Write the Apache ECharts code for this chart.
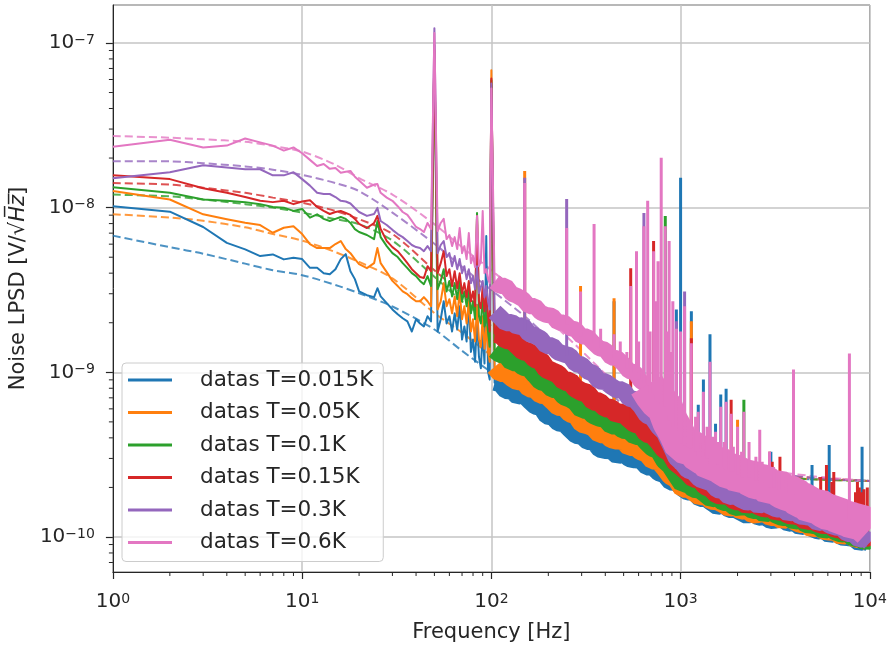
<!DOCTYPE html>
<html><head><meta charset="utf-8">
<script src="https://cdn.jsdelivr.net/npm/echarts@6/dist/echarts.min.js"></script>
<style>html,body{margin:0;padding:0;background:#fff}#c{width:890px;height:648px}</style>
</head><body><div id="c"></div>
<script>
// ---------- frequencies (Hz) ----------
const lowF = [1,2,3,4,5,6,7,8,9,10,11,12,13,14,15,16,17,18,19,20,22,24,25,26,28,30,32,34,36,38,40,42,44,46,
  48,50,52,54,56,58,60,62,64,66,68,70,72,74,76,78,80,82,84,86,88,90,92,94,96,98,100];
const bandF = [104,111,119,128,137,147,158,170,182,195,210,225,242,260,279,300,322,346,372,400,430,462,496,533,573,615,661,710,763,820,
  881,947,1020,1090,1170,1260,1350,1450,1560,1680,1800,1940,2080,2240,2400,2580,2770,2980,3200,3440,3700,3970,4270,4590,4930,5300,5700,6120,6580,7070,
  7600,8170,8780,9440,10000];
const fitF = [1,2,3,5,7,10,15,20,30,50,70,100,150,200,300,500,700,1000,2000,5000,10000];

// ---------- T = 0.015K ----------
const blueLow = [1.02e-8,9.45e-9,7.63e-9,6.11e-9,5.58e-9,5.08e-9,5.2e-9,4.85e-9,4.96e-9,4.87e-9,4.31e-9,4.31e-9,4.0e-9,3.94e-9,4.23e-9,4.87e-9,5.22e-9,4.11e-9,3.68e-9,3.10e-9,2.94e-9,2.86e-9,3.24e-9,2.89e-9,2.63e-9,2.41e-9,2.25e-9,2.13e-9,2.04e-9,1.77e-9,2.10e-9,1.98e-9,1.90e-9,2.19e-9,
  2.04e-9,9.68e-8,1.77e-9,2.10e-9,2.70e-9,1.98e-9,2.19e-9,1.77e-9,2.28e-9,1.82e-9,2.52e-9,1.58e-9,1.90e-9,1.54e-9,2.70e-9,1.33e-9,1.58e-9,1.16e-9,2.10e-9,1.24e-9,1.06e-9,1.77e-9,1.13e-9,6.72e-9,1.01e-9,9.03e-10,5.53e-8];
const blueBand = [8.64e-10,8.47e-10,7.70e-10,7.64e-10,7.10e-10,7.27e-10,6.69e-10,6.18e-10,6.08e-10,5.40e-10,
  5.31e-10,4.90e-10,4.83e-10,4.45e-10,4.11e-10,4.06e-10,3.77e-10,3.76e-10,3.39e-10,3.33e-10,
  3.31e-10,3.08e-10,3.20e-10,2.97e-10,2.92e-10,2.90e-10,2.64e-10,2.64e-10,2.44e-10,2.37e-10,
  2.14e-10,2.13e-10,1.96e-10,1.86e-10,1.86e-10,1.70e-10,1.71e-10,1.61e-10,1.52e-10,1.56e-10,
  1.46e-10,1.46e-10,1.40e-10,1.34e-10,1.39e-10,1.31e-10,1.32e-10,1.25e-10,1.26e-10,1.28e-10,
  1.20e-10,1.22e-10,1.14e-10,1.18e-10,1.12e-10,1.08e-10,1.09e-10,1.02e-10,1.06e-10,9.94e-11,
  9.86e-11,9.76e-11,9.15e-11,9.45e-11,9.03e-11];
const blueSpikes = [[445,3.3e-10,2.70e-9],[950,2.1e-10,2.41e-9],[1000,2.0e-10,1.52e-8],[1140,1.86e-10,2.35e-9],[1240,1.7e-10,6.35e-10],[1320,1.7e-10,9.03e-10],[1430,1.6e-10,1.70e-9],[1530,1.52e-10,4.87e-10],[1630,1.55e-10,7.33e-10],[1740,1.5e-10,7.96e-10],[3000,1.25e-10,3.29e-10],[3950,1.22e-10,4.54e-10],[4950,1.12e-10,2.74e-10],[6100,1.08e-10,3.62e-10],[9100,9.3e-11,3.53e-10]];
const blueFit = [6.76e-9,5.75e-9,5.25e-9,4.57e-9,4.17e-9,3.89e-9,3.39e-9,3.02e-9,2.51e-9,1.82e-9,1.35e-9,1.00e-9,7.24e-10,5.75e-10,4.27e-10,3.24e-10,2.82e-10,2.57e-10,2.34e-10,2.24e-10,2.19e-10];

// ---------- T = 0.05K ----------
const orangeLow = [1.26e-8,1.12e-8,9.11e-9,8.50e-9,8.10e-9,7.84e-9,7.04e-9,7.55e-9,7.72e-9,6.91e-9,6.01e-9,5.68e-9,5.68e-9,5.68e-9,6.01e-9,6.27e-9,5.60e-9,5.29e-9,4.87e-9,4.54e-9,4.29e-9,4.6e-9,5.68e-9,4.6e-9,4.06e-9,3.59e-9,3.34e-9,3.10e-9,2.98e-9,2.82e-9,2.70e-9,2.70e-9,2.86e-9,2.70e-9,
  2.52e-9,9.03e-8,2.41e-9,2.70e-9,3.48e-9,2.52e-9,2.78e-9,2.28e-9,2.89e-9,2.19e-9,3.10e-9,2.10e-9,2.52e-9,1.98e-9,2.70e-9,1.77e-9,2.10e-9,1.54e-9,2.52e-9,1.58e-9,1.43e-9,2.19e-9,1.39e-9,1.90e-9,1.33e-9,1.16e-9,6.82e-8];
const orangeBand = [1.08e-9,9.89e-10,9.92e-10,9.26e-10,8.81e-10,8.86e-10,7.98e-10,7.89e-10,7.30e-10,7.25e-10,
  6.68e-10,6.18e-10,6.12e-10,5.61e-10,5.49e-10,4.87e-10,4.77e-10,4.61e-10,4.20e-10,4.23e-10,
  3.92e-10,3.85e-10,3.84e-10,3.51e-10,3.55e-10,3.31e-10,3.21e-10,2.91e-10,2.90e-10,2.63e-10,
  2.35e-10,2.24e-10,1.96e-10,1.97e-10,1.87e-10,1.76e-10,1.79e-10,1.66e-10,1.65e-10,1.58e-10,
  1.50e-10,1.54e-10,1.44e-10,1.46e-10,1.37e-10,1.38e-10,1.40e-10,1.32e-10,1.33e-10,1.26e-10,
  1.31e-10,1.25e-10,1.20e-10,1.20e-10,1.12e-10,1.16e-10,1.09e-10,1.08e-10,1.07e-10,1.01e-10,
  1.05e-10,9.90e-11,9.68e-11,9.72e-11,9.15e-11];
const orangeSpikes = [[150,8.4e-10,1.67e-8],[296,4.9e-10,3.34e-9],[445,3.9e-10,2.82e-9],[1140,1.9e-10,2.04e-9],[2000,1.5e-10,5.15e-10]];
const orangeFit = [9.12e-9,8.71e-9,8.32e-9,7.59e-9,6.92e-9,6.31e-9,5.37e-9,4.68e-9,3.72e-9,2.29e-9,1.74e-9,1.26e-9,8.71e-10,6.76e-10,4.90e-10,3.47e-10,2.95e-10,2.63e-10,2.40e-10,2.24e-10,2.19e-10];

// ---------- T = 0.1K ----------
const greenLow = [1.33e-8,1.23e-8,1.12e-8,1.10e-8,1.08e-8,1.05e-8,1.01e-8,1.00e-8,9.55e-9,9.82e-9,8.69e-9,9.11e-9,8.54e-9,8.30e-9,8.54e-9,8.78e-9,8.54e-9,8.07e-9,7.41e-9,7.11e-9,6.82e-9,6.44e-9,8.30e-9,6.62e-9,5.84e-9,5.29e-9,5.01e-9,4.60e-9,4.29e-9,4.00e-9,3.84e-9,3.59e-9,3.43e-9,3.84e-9,
  3.34e-9,8.41e-8,3.20e-9,3.59e-9,4.23e-9,3.10e-9,3.59e-9,2.89e-9,3.48e-9,2.78e-9,3.59e-9,2.70e-9,3.10e-9,2.52e-9,3.20e-9,2.28e-9,2.70e-9,2.10e-9,9.28e-9,2.19e-9,1.98e-9,2.89e-9,1.90e-9,2.35e-9,1.77e-9,1.43e-9,5.93e-8];
const greenBand = [1.37e-9,1.29e-9,1.28e-9,1.15e-9,1.16e-9,1.08e-9,1.06e-9,9.64e-10,8.81e-10,8.63e-10,
  7.93e-10,7.91e-10,7.14e-10,6.92e-10,6.59e-10,5.92e-10,5.99e-10,5.49e-10,5.31e-10,5.22e-10,
  4.76e-10,4.78e-10,4.48e-10,4.44e-10,4.10e-10,4.14e-10,3.77e-10,3.48e-10,3.37e-10,2.92e-10,
  2.71e-10,2.38e-10,2.10e-10,2.14e-10,1.96e-10,1.94e-10,1.83e-10,1.71e-10,1.75e-10,1.63e-10,
  1.63e-10,1.52e-10,1.53e-10,1.54e-10,1.46e-10,1.47e-10,1.38e-10,1.44e-10,1.37e-10,1.32e-10,
  1.33e-10,1.25e-10,1.29e-10,1.20e-10,1.19e-10,1.17e-10,1.10e-10,1.14e-10,1.08e-10,1.05e-10,
  1.06e-10,9.90e-11,9.96e-11,9.32e-11,9.68e-11];
const greenSpikes = [[830,2.9e-10,8.91e-9],[2160,1.5e-10,6.82e-10]];
const greenFit = [1.20e-8,1.17e-8,1.12e-8,1.05e-8,1.00e-8,9.33e-9,8.51e-9,7.94e-9,6.31e-9,3.80e-9,2.69e-9,1.91e-9,1.32e-9,1.00e-9,6.92e-10,4.47e-10,3.55e-10,2.95e-10,2.45e-10,2.24e-10,2.19e-10];

// ---------- T = 0.15K ----------
const redLow = [1.57e-8,1.49e-8,1.31e-8,1.23e-8,1.16e-8,1.10e-8,1.08e-8,1.10e-8,1.05e-8,1.09e-8,1.11e-8,1.01e-8,9.55e-9,9.15e-9,9.41e-9,9.55e-9,9.28e-9,9.03e-9,8.54e-9,7.96e-9,7.52e-9,8.07e-9,8.91e-9,7.41e-9,6.27e-9,5.76e-9,5.44e-9,5.01e-9,4.60e-9,4.23e-9,4.00e-9,3.79e-9,3.74e-9,4.41e-9,
  4.11e-9,9.03e-8,4.00e-9,4.60e-9,5.44e-9,3.84e-9,4.23e-9,3.34e-9,4.11e-9,3.24e-9,4.00e-9,3.02e-9,3.48e-9,2.86e-9,3.59e-9,2.70e-9,3.10e-9,2.52e-9,8.91e-9,2.70e-9,2.45e-9,3.34e-9,2.35e-9,2.89e-9,2.19e-9,1.77e-9,6.09e-8];
const redBand = [1.72e-9,1.71e-9,1.58e-9,1.57e-9,1.46e-9,1.35e-9,1.33e-9,1.21e-9,1.18e-9,1.05e-9,
  1.01e-9,9.75e-10,8.84e-10,8.82e-10,7.98e-10,7.63e-10,7.45e-10,6.68e-10,6.61e-10,6.09e-10,
  6.04e-10,5.58e-10,5.69e-10,5.25e-10,4.90e-10,4.83e-10,4.28e-10,4.18e-10,3.82e-10,3.41e-10,
  3.26e-10,2.83e-10,2.65e-10,2.48e-10,2.27e-10,2.26e-10,2.05e-10,1.98e-10,1.81e-10,1.80e-10,
  1.79e-10,1.66e-10,1.66e-10,1.57e-10,1.62e-10,1.55e-10,1.50e-10,1.52e-10,1.42e-10,1.47e-10,
  1.37e-10,1.36e-10,1.34e-10,1.25e-10,1.29e-10,1.22e-10,1.19e-10,1.20e-10,1.12e-10,1.13e-10,
  1.05e-10,1.09e-10,1.03e-10,9.89e-11,1.01e-10];
const redSpikes = [[545,5.0e-10,4.29e-9],[720,4.1e-10,6.27e-9],[1140,2.3e-10,1.61e-9],[1850,1.7e-10,6.82e-10],[2950,1.5e-10,3.29e-10],[3050,1.5e-10,2.86e-10],[3350,1.45e-10,3.07e-10],[3550,1.45e-10,2.48e-10],[5500,1.25e-10,2.31e-10],[5900,1.2e-10,2.74e-10],[6300,1.2e-10,2.16e-10],[6450,1.15e-10,2.48e-10],[8400,1.08e-10,1.87e-10],[8600,1.05e-10,2.16e-10],[8800,1.05e-10,2.0e-10],[9000,1.04e-10,1.87e-10],[9300,1.02e-10,1.95e-10],[9700,1.01e-10,2.0e-10]];
const redFit = [1.41e-8,1.38e-8,1.32e-8,1.23e-8,1.15e-8,1.07e-8,9.55e-9,8.51e-9,6.92e-9,4.17e-9,3.02e-9,2.19e-9,1.48e-9,1.12e-9,7.59e-10,4.79e-10,3.72e-10,3.02e-10,2.51e-10,2.29e-10,2.19e-10];

// ---------- T = 0.3K ----------
const purpleLow = [1.51e-8,1.64e-8,1.81e-8,1.75e-8,1.71e-8,1.71e-8,1.57e-8,1.57e-8,1.64e-8,1.49e-8,1.36e-8,1.23e-8,1.21e-8,1.21e-8,1.16e-8,1.10e-8,1.09e-8,1.06e-8,9.96e-9,9.41e-9,8.91e-9,9.15e-9,9.96e-9,8.30e-9,7.84e-9,7.33e-9,6.91e-9,6.62e-9,6.27e-9,5.93e-9,5.76e-9,5.68e-9,5.44e-9,5.84e-9,
  5.44e-9,1.23e-7,5.29e-9,5.93e-9,6.27e-9,5.01e-9,5.29e-9,4.41e-9,5.08e-9,4.23e-9,4.87e-9,4.00e-9,4.41e-9,3.68e-9,4.23e-9,3.48e-9,3.84e-9,3.20e-9,4.41e-9,3.02e-9,3.10e-9,3.59e-9,2.86e-9,3.34e-9,2.70e-9,2.41e-9,5.68e-8];
const purpleBand = [2.33e-9,2.17e-9,2.00e-9,2.01e-9,1.90e-9,1.92e-9,1.72e-9,1.67e-9,1.60e-9,1.45e-9,
  1.45e-9,1.33e-9,1.29e-9,1.26e-9,1.13e-9,1.11e-9,1.02e-9,9.83e-10,8.84e-10,8.78e-10,
  8.23e-10,7.81e-10,7.85e-10,6.98e-10,6.82e-10,6.24e-10,5.51e-10,5.30e-10,4.68e-10,4.32e-10,
  3.64e-10,3.03e-10,2.80e-10,2.55e-10,2.48e-10,2.25e-10,2.19e-10,2.13e-10,1.94e-10,1.91e-10,
  1.76e-10,1.78e-10,1.69e-10,1.63e-10,1.65e-10,1.55e-10,1.61e-10,1.54e-10,1.48e-10,1.49e-10,
  1.39e-10,1.44e-10,1.34e-10,1.33e-10,1.31e-10,1.22e-10,1.25e-10,1.18e-10,1.15e-10,1.14e-10,
  1.05e-10,1.05e-10,9.67e-11,9.85e-11,9.28e-11];
const purpleSpikes = [[150,1.8e-9,1.52e-8],[250,1.27e-9,1.13e-8],[640,6.0e-10,9.28e-9],[950,2.6e-10,2.04e-9],[1050,2.7e-10,3.10e-9]];
const purpleFit = [1.91e-8,1.91e-8,1.86e-8,1.78e-8,1.70e-8,1.58e-8,1.41e-8,1.26e-8,9.33e-9,6.03e-9,4.37e-9,3.16e-9,2.19e-9,1.62e-9,1.07e-9,6.31e-10,4.57e-10,3.47e-10,2.63e-10,2.29e-10,2.19e-10];

// ---------- T = 0.6K ----------
const pinkLow = [2.34e-8,2.58e-8,2.32e-8,2.38e-8,2.63e-8,2.49e-8,2.38e-8,2.22e-8,2.32e-8,2.14e-8,1.95e-8,1.79e-8,1.84e-8,1.72e-8,1.74e-8,1.63e-8,1.65e-8,1.67e-8,1.54e-8,1.46e-8,1.32e-8,1.38e-8,1.39e-8,1.23e-8,1.15e-8,1.10e-8,1.02e-8,9.41e-9,9.03e-9,8.30e-9,7.63e-9,7.41e-9,7.11e-9,8.07e-9,
  7.41e-9,1.15e-7,7.21e-9,8.07e-9,8.54e-9,6.44e-9,6.82e-9,5.84e-9,6.62e-9,5.60e-9,7.52e-9,5.29e-9,5.84e-9,4.87e-9,7.01e-9,4.60e-9,5.08e-9,4.35e-9,8.91e-9,4.41e-9,4.73e-9,9.55e-9,4.00e-9,4.23e-9,3.68e-9,3.48e-9,5.29e-8];
const pinkBand = [3.55e-9,3.34e-9,3.36e-9,3.00e-9,2.91e-9,2.78e-9,2.52e-9,2.53e-9,2.31e-9,2.23e-9,
  2.20e-9,2.00e-9,2.01e-9,1.86e-9,1.82e-9,1.65e-9,1.65e-9,1.51e-9,1.40e-9,1.37e-9,
  1.23e-9,1.22e-9,1.13e-9,1.02e-9,1.00e-9,8.84e-10,8.37e-10,7.33e-10,6.61e-10,6.28e-10,
  5.04e-10,4.35e-10,3.61e-10,3.53e-10,3.45e-10,3.12e-10,3.05e-10,2.78e-10,2.80e-10,2.63e-10,
  2.51e-10,2.49e-10,2.31e-10,2.37e-10,2.21e-10,2.17e-10,2.14e-10,1.98e-10,2.03e-10,1.91e-10,
  1.84e-10,1.82e-10,1.68e-10,1.65e-10,1.52e-10,1.55e-10,1.46e-10,1.40e-10,1.41e-10,1.30e-10,
  1.31e-10,1.24e-10,1.25e-10,1.18e-10,1.11e-10];
const pinkSpikes = [[150,2.7e-9,1.41e-8],[250,1.95e-9,7.52e-9],[296,1.65e-9,3.10e-9],[349,1.5e-9,7.96e-9],[378,1.4e-9,1.84e-9],[445,1.22e-9,1.70e-9],[480,1.2e-9,1.54e-9],[520,1.05e-9,1.33e-9],[545,1.0e-9,3.34e-9],[585,1.0e-9,5.44e-9],[600,9.0e-10,1.54e-9],[640,8.6e-10,7.72e-9],[670,8.3e-10,1.10e-8],[690,7.5e-10,1.77e-9],[720,7.3e-10,5.44e-9],[740,6.8e-10,2.70e-9],[760,6.6e-10,4.73e-9],[790,6.5e-10,2.01e-8],[830,6.2e-10,7.72e-9],[850,5.5e-10,1.77e-9],[870,5.1e-10,6.27e-9],[890,5.0e-10,1.33e-9],[910,4.7e-10,2.70e-9],[950,4.4e-10,1.84e-9],[1000,3.7e-10,1.77e-9],[1050,3.6e-10,2.52e-9],[1100,3.5e-10,5.01e-10],[1140,3.45e-10,1.50e-9],[1200,3.3e-10,5.37e-10],[1240,3.1e-10,5.76e-10],[1320,3.05e-10,7.63e-10],[1380,3.0e-10,4.67e-10],[1430,2.8e-10,1.16e-9],[1480,2.8e-10,4.06e-10],[1530,2.8e-10,4.35e-10],[1580,2.75e-10,3.78e-10],[1630,2.65e-10,6.17e-10],[1700,2.6e-10,3.78e-10],[1740,2.55e-10,6.62e-10],[1850,2.5e-10,5.60e-10],[1900,2.5e-10,3.53e-10],[2000,2.4e-10,4.67e-10],[2100,2.3e-10,3.29e-10],[2160,2.35e-10,5.76e-10],[2300,2.3e-10,3.78e-10],[2500,2.2e-10,3.07e-10],[2620,2.15e-10,4.48e-10],[2700,2.15e-10,2.86e-10],[2950,2.0e-10,3.29e-10],[3100,2.0e-10,2.66e-10],[3300,1.95e-10,2.48e-10],[3600,1.85e-10,2.31e-10],[3950,1.82e-10,1.04e-9],[7800,1.28e-10,1.30e-9]];
const pinkFit = [2.72e-8,2.66e-8,2.60e-8,2.51e-8,2.37e-8,2.19e-8,1.82e-8,1.51e-8,1.20e-8,7.94e-9,5.75e-9,4.17e-9,2.82e-9,2.09e-9,1.35e-9,7.59e-10,5.37e-10,3.98e-10,2.75e-10,2.34e-10,2.19e-10];

// ---------- labels / axis ----------
const names = ['datas T=0.015K','datas T=0.05K','datas T=0.1K','datas T=0.15K','datas T=0.3K','datas T=0.6K'];
const xMinorTicks = [2,3,4,5,6,7,8,9,20,30,40,50,60,70,80,90,200,300,400,500,600,700,800,900,2000,3000,4000,5000,6000,7000,8000,9000];
const yMinorTicks = [7e-11,8e-11,9e-11,2e-10,3e-10,4e-10,5e-10,6e-10,7e-10,8e-10,9e-10,2e-9,3e-9,4e-9,5e-9,6e-9,7e-9,8e-9,9e-9,2e-8,3e-8,4e-8,5e-8,6e-8,7e-8,8e-8,9e-8];
const X_MIN = 1, X_MAX = 10000, Y_MIN = 6.13e-11, Y_MAX = 1.70e-7;

const colors = ['#1f77b4','#ff7f0e','#2ca02c','#d62728','#9467bd','#e377c2'];
const bandWidths = [16,18,18,19,17,18];
const lows = [blueLow,orangeLow,greenLow,redLow,purpleLow,pinkLow];
const bands = [blueBand,orangeBand,greenBand,redBand,purpleBand,pinkBand];
const spikes = [blueSpikes,orangeSpikes,greenSpikes,redSpikes,purpleSpikes,pinkSpikes];
const fits = [blueFit,orangeFit,greenFit,redFit,purpleFit,pinkFit];

const FONT = 'DejaVu Sans';
const TXT = '#262626';

function pairs(f, v){ return f.map((x,i)=>[x, v[i]]); }
function spikeData(s){ const out=[]; s.forEach(p=>{ out.push([p[0],p[1]],[p[0],p[2]],[p[0],'-']); }); return out; }
function expLabel(v){
  const l = Math.log10(v), e = Math.round(l);
  if (Math.abs(l-e) > 0.01) return '';
  return '{b|10}{s|' + (e<0?'\u2212':'') + Math.abs(e) + '}';
}
const rich = {
  b:{fontFamily:FONT,fontSize:20,color:TXT,lineHeight:20,padding:[11,0,0,0],verticalAlign:'bottom'},
  s:{fontFamily:FONT,fontSize:14,color:TXT,lineHeight:12,verticalAlign:'top'}
};
const baseLine = {type:'line',showSymbol:false,symbol:'none',silent:true,animation:false,emphasis:{disabled:true}};

const series = [];
series.push({
  type:'custom', silent:true, clip:false, animation:false,
  data: xMinorTicks.map(v=>[v,Y_MIN,0]).concat(yMinorTicks.map(v=>[X_MIN,v,1])),
  encode:{x:0,y:1},
  renderItem(params, api){
    const cs = params.coordSys;
    if (api.value(2) === 0){
      const p = api.coord([api.value(0), Y_MIN]);
      return {type:'line', shape:{x1:p[0],y1:cs.y+cs.height,x2:p[0],y2:cs.y+cs.height+4}, style:{stroke:'#262626',lineWidth:1}};
    }
    const p = api.coord([X_MIN, api.value(1)]);
    return {type:'line', shape:{x1:cs.x-4,y1:p[1],x2:cs.x,y2:p[1]}, style:{stroke:'#262626',lineWidth:1}};
  }
});
fits.forEach((arr,i)=>{
  series.push(Object.assign({}, baseLine, {name:names[i]+' fit', data:pairs(fitF,arr), smooth:0.3,
    lineStyle:{color:colors[i],width:2,type:[8,4],opacity:0.8}, itemStyle:{color:colors[i]}}));
});
for (let i=0;i<6;i++){
  const c = colors[i];
  series.push(Object.assign({}, baseLine, {name:names[i], data:pairs(lowF,lows[i]).concat(pairs(bandF,bands[i])),
    lineStyle:{color:c,width:2,join:'round'}, itemStyle:{color:c}}));
  const bd = pairs(bandF,bands[i]);
  if (i < 5){
    series.push(Object.assign({}, baseLine, {name:names[i]+' band', data:bd,
      lineStyle:{color:c,width:bandWidths[i],join:'bevel',cap:'butt'}, itemStyle:{color:c}}));
  } else {
    series.push(Object.assign({}, baseLine, {name:names[i]+' band', data:bd.slice(0,27),
      lineStyle:{color:c,width:16,join:'bevel',cap:'butt'}, itemStyle:{color:c}}));
    series.push(Object.assign({}, baseLine, {name:names[i]+' band2', data:bd.slice(26),
      lineStyle:{color:c,width:36,join:'bevel',cap:'butt'}, itemStyle:{color:c}}));
  }
  series.push(Object.assign({}, baseLine, {name:names[i]+' spikes', data:spikeData(spikes[i]), connectNulls:false,
    lineStyle:{color:c,width:3,cap:'butt'}, itemStyle:{color:c}}));
}
// white margin to the right of the plot frame (ECharts widens the clip rect by half the line width)
series.push({
  type:'custom', silent:true, clip:false, animation:false, zlevel:1, z:10,
  data:[[X_MAX, Y_MIN]], encode:{x:0,y:1},
  renderItem(params, api){
    const cs = params.coordSys;
    return {type:'rect', shape:{x:cs.x+cs.width+1, y:cs.y-2, width:30, height:cs.height+2}, style:{fill:'#ffffff', stroke:null}};
  }
});

const chart = echarts.init(document.getElementById('c'), null, {renderer:'canvas'});
chart.setOption({
  animation:false,
  backgroundColor:'#ffffff',
  grid:{left:110,right:17,top:5,bottom:76,show:true,borderColor:'#262626',borderWidth:1,backgroundColor:'transparent'},
  legend:{
    data:names, orient:'vertical', left:122, top:363, icon:'rect', itemWidth:44, itemHeight:3, itemGap:8.5,
    padding:[5,10,7,6], backgroundColor:'rgba(255,255,255,0.8)', borderColor:'#cccccc', borderWidth:1, borderRadius:4,
    selectedMode:false,
    textStyle:{fontFamily:FONT,fontSize:21.5,color:TXT,lineHeight:24,padding:[0,0,0,23]}
  },
  xAxis:{
    type:'log', logBase:10, min:X_MIN, max:X_MAX,
    axisLine:{show:true,lineStyle:{color:'#262626',width:1}},
    axisTick:{show:true,length:7,lineStyle:{color:'#262626',width:1.2}},
    splitLine:{show:true,lineStyle:{color:'#c4c4c4',width:1.5}},
    minorTick:{show:false}, minorSplitLine:{show:false},
    axisLabel:{formatter:expLabel, rich:rich, margin:20},
    name:'Frequency [Hz]', nameLocation:'middle', nameGap:50,
    nameTextStyle:{fontFamily:FONT,fontSize:21,color:TXT}
  },
  yAxis:{
    type:'log', logBase:10, min:Y_MIN, max:Y_MAX,
    axisLine:{show:true,lineStyle:{color:'#262626',width:1}},
    axisTick:{show:true,length:7,lineStyle:{color:'#262626',width:1.2}},
    splitLine:{show:true,lineStyle:{color:'#c4c4c4',width:1.5}},
    axisLabel:{formatter:expLabel, rich:rich, margin:18, showMinLabel:false, showMaxLabel:false},
    name:'{a|Noise LPSD [V/\u221A}{h|H\u0305z\u0305}{a|]}', nameLocation:'middle', nameGap:74, nameRotate:90,
    nameTextStyle:{rich:{a:{fontFamily:FONT,fontSize:21,color:TXT},h:{fontFamily:FONT,fontSize:21,fontStyle:'italic',color:TXT}}}
  },
  series:series
});
</script></body></html>
